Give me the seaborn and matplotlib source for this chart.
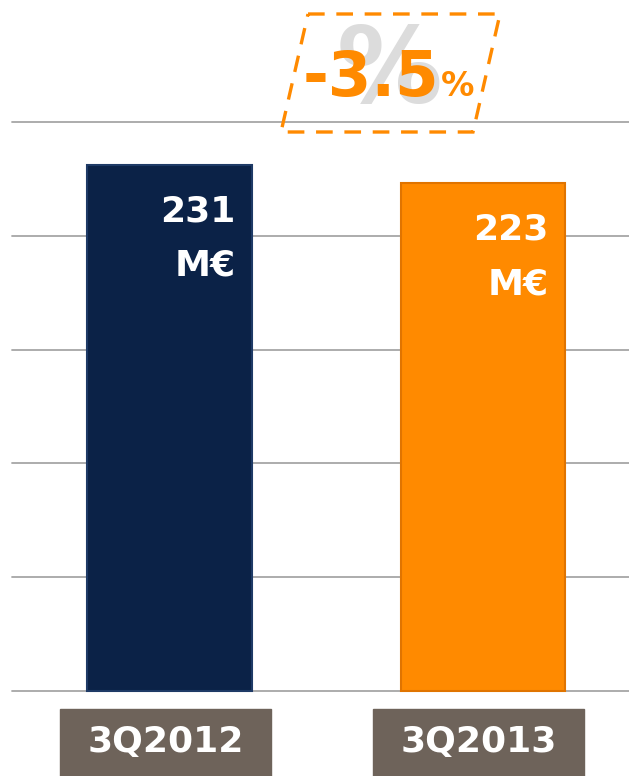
import matplotlib
matplotlib.use("Agg")
import matplotlib.pyplot as plt
from matplotlib.patches import Rectangle, Polygon
import seaborn as sns
import pandas as pd

# data
quarters = ["3Q2012", "3Q2013"]
revenue = [231, 223]
value_labels = ["231\nM€", "223\nM€"]
change_label = "-3.5"
bar_colors = ["#0B2247", "#FF8A00"]
edge_colors = ["#1E3A66", "#E07400"]

df = pd.DataFrame({"quarter": quarters, "revenue": revenue})

sns.set_style("white")
plt.rcParams["font.family"] = ["DejaVu Sans"]

W, H = 629, 776
fig = plt.figure(figsize=(W / 100, H / 100), dpi=100)
ax = fig.add_axes([0, 0, 1, 1])

# gridlines behind the bars
for g in range(0, 300, 50):
    ax.axhline(g, xmin=12 / W, xmax=1, color="#A6A6A6", lw=1.3, zorder=0)

sns.barplot(data=df, x="quarter", y="revenue", hue="quarter", palette=bar_colors,
            saturation=1, width=0.526, legend=False, ax=ax, zorder=2)
for p, c in zip(ax.patches, edge_colors):
    p.set_edgecolor(c)
    p.set_linewidth(1.5)

ax.set_xlim(-0.541, 1.466)
ax.set_ylim(-37.3, 303.5)
ax.axis("off")

# value labels inside the bars
for i, (v, lab) in enumerate(zip(revenue, value_labels)):
    ax.text(i + 0.21, v - 13, lab, ha="right", va="top", color="white",
            fontsize=26, fontweight="bold", linespacing=1.75, zorder=3)

# category boxes under the axis
for i, q in enumerate(quarters):
    ax.add_patch(Rectangle((i - 0.35, -40), 0.673, 32.1, color="#6E635A",
                           zorder=3, clip_on=False))
    ax.text(i - 0.013, -22.5, q, ha="center", va="center", color="white",
            fontsize=26, fontweight="bold", zorder=4)

# change badge
def fx(px):
    return px / W

def fy(py):
    return 1 - py / H

fig.text(fx(389), fy(74), "%", ha="center", va="center", color="#DCDCDC",
         fontsize=76, fontweight="bold", zorder=1)
para = Polygon([(fx(308), fy(14)), (fx(500), fy(14)), (fx(473), fy(132)), (fx(281), fy(132))],
               closed=True, fill=False, edgecolor="#FF8A00",
               lw=2.4, linestyle=(0, (5, 3.5)), transform=fig.transFigure)
fig.patches.append(para)
fig.text(fx(303), fy(96), change_label, ha="left", va="baseline", color="#FF8A00",
         fontsize=45, fontweight="bold")
fig.text(fx(474), fy(96), "%", ha="right", va="baseline", color="#FF8A00",
         fontsize=24, fontweight="bold")

fig.savefig("out.png", dpi=100)
